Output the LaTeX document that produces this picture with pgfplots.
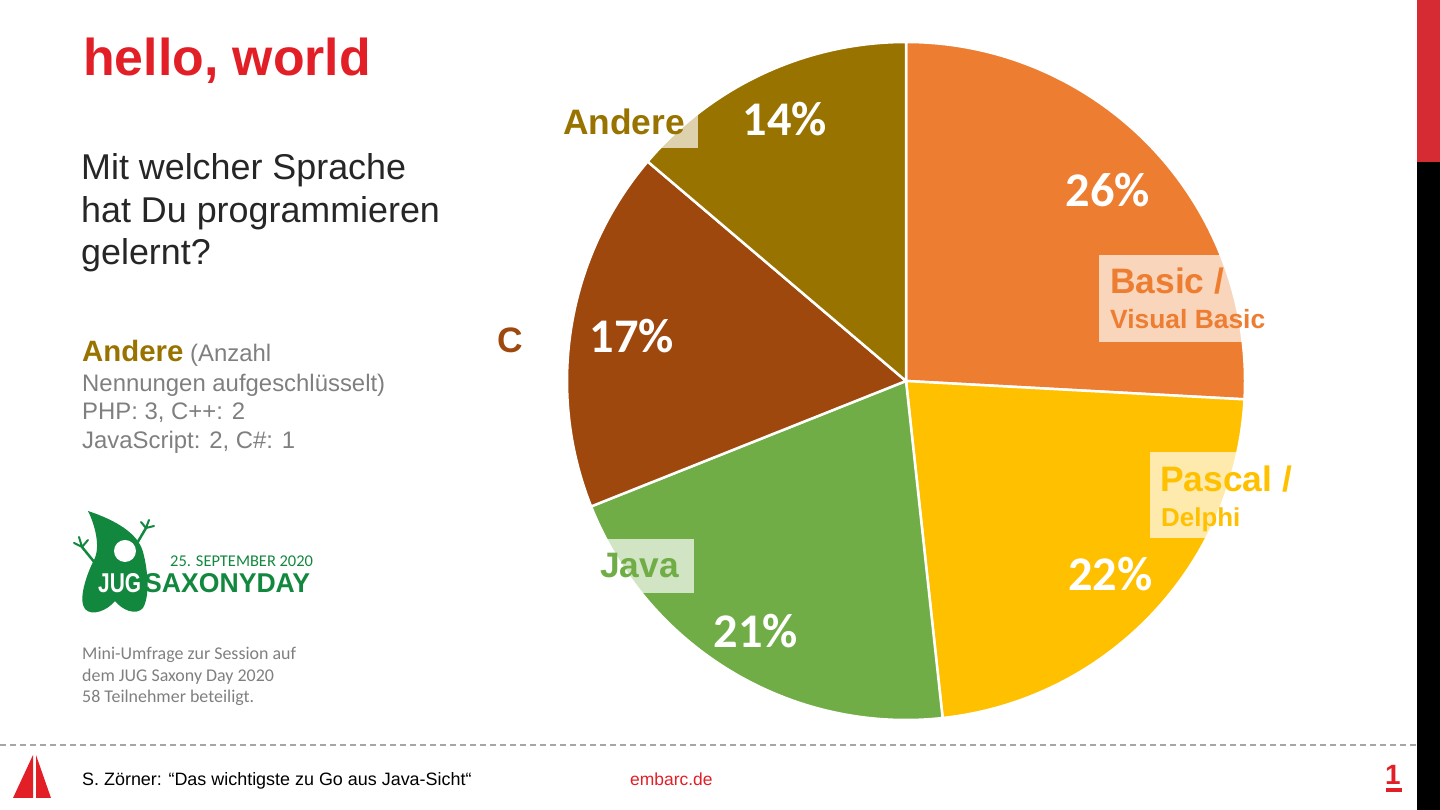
\documentclass[border=0pt]{standalone}
\usepackage{pgfplots}
\pgfplotsset{compat=1.18}
\usepackage{pgfplotstable}
\usepackage{graphicx}
\usepackage{fontspec}
\setmainfont{Liberation Sans}
\newfontfamily\carlito{Carlito}

\definecolor{cBasic}{HTML}{ED7D31}
\definecolor{cPascal}{HTML}{FFC000}
\definecolor{cJava}{HTML}{70AD47}
\definecolor{cC}{HTML}{9E480E}
\definecolor{cAndere}{HTML}{997300}
\definecolor{titlered}{RGB}{226,30,38}
\definecolor{barred}{RGB}{214,43,50}
\definecolor{txtdark}{HTML}{262626}
\definecolor{txtgray}{HTML}{7F7F7F}
\definecolor{jug}{RGB}{18,135,62}
\definecolor{dashgray}{HTML}{A6A6A6}

\newcommand\fs[1]{\fontsize{#1}{#1}\selectfont}

% survey answers (58 participants)
\pgfplotstableread{
lang count
Basic 15
Pascal 13
Java 12
C 10
Andere 8
}\piedata

\pgfplotstablegetelem{0}{count}\of\piedata\edef\cA{\pgfplotsretval}
\pgfplotstablegetelem{1}{count}\of\piedata\edef\cB{\pgfplotsretval}
\pgfplotstablegetelem{2}{count}\of\piedata\edef\cC{\pgfplotsretval}
\pgfplotstablegetelem{3}{count}\of\piedata\edef\cD{\pgfplotsretval}
\pgfplotstablegetelem{4}{count}\of\piedata\edef\cE{\pgfplotsretval}
\pgfmathsetmacro\total{\cA+\cB+\cC+\cD+\cE}
\pgfmathsetmacro\aA{90}
\pgfmathsetmacro\aB{\aA-360*\cA/\total}
\pgfmathsetmacro\aC{\aB-360*\cB/\total}
\pgfmathsetmacro\aD{\aC-360*\cC/\total}
\pgfmathsetmacro\aE{\aD-360*\cD/\total}
\pgfmathsetmacro\aF{\aE-360*\cE/\total}
\pgfmathsetmacro\mA{(\aA+\aB)/2}
\pgfmathsetmacro\mB{(\aB+\aC)/2}
\pgfmathsetmacro\mC{(\aC+\aD)/2}
\pgfmathsetmacro\mD{(\aD+\aE)/2}
\pgfmathsetmacro\mE{(\aE+\aF)/2}
\pgfmathtruncatemacro\pA{round(100*\cA/\total)}
\pgfmathtruncatemacro\pB{round(100*\cB/\total)}
\pgfmathtruncatemacro\pC{round(100*\cC/\total)}
\pgfmathtruncatemacro\pD{round(100*\cD/\total)}
\pgfmathtruncatemacro\pE{round(100*\cE/\total)}

\begin{document}
\begin{tikzpicture}
\path[use as bounding box] (0,0) rectangle (1440bp,810bp);
\begin{axis}[at={(906bp,429bp)}, anchor=center, scale only axis,
  width=678bp, height=678bp, xmin=-1, xmax=1, ymin=-1, ymax=1,
  hide axis, clip=false]
\fill[cBasic, draw=white, line width=2.5bp] (axis cs:0,0) -- (axis cs:{cos(\aA)},{sin(\aA)}) arc[start angle=\aA, end angle=\aB, radius=339bp] -- cycle;
\fill[cPascal, draw=white, line width=2.5bp] (axis cs:0,0) -- (axis cs:{cos(\aB)},{sin(\aB)}) arc[start angle=\aB, end angle=\aC, radius=339bp] -- cycle;
\fill[cJava, draw=white, line width=2.5bp] (axis cs:0,0) -- (axis cs:{cos(\aC)},{sin(\aC)}) arc[start angle=\aC, end angle=\aD, radius=339bp] -- cycle;
\fill[cC, draw=white, line width=2.5bp] (axis cs:0,0) -- (axis cs:{cos(\aD)},{sin(\aD)}) arc[start angle=\aD, end angle=\aE, radius=339bp] -- cycle;
\fill[cAndere, draw=white, line width=2.5bp] (axis cs:0,0) -- (axis cs:{cos(\aE)},{sin(\aE)}) arc[start angle=\aE, end angle=\aF, radius=339bp] -- cycle;
\node[white, font=\carlito\bfseries\fs{48.5}, inner sep=0pt] at (axis cs:{0.82*cos(\mA)},{0.82*sin(\mA)}) {\pA\%};
\node[white, font=\carlito\bfseries\fs{48.5}, inner sep=0pt] at (axis cs:{0.83*cos(\mB)},{0.83*sin(\mB)}) {\pB\%};
\node[white, font=\carlito\bfseries\fs{48.5}, inner sep=0pt] at (axis cs:{0.86*cos(\mC)},{0.86*sin(\mC)}) {\pC\%};
\node[white, font=\carlito\bfseries\fs{48.5}, inner sep=0pt] at (axis cs:{0.82*cos(\mD)},{0.82*sin(\mD)}) {\pD\%};
\node[white, font=\carlito\bfseries\fs{48.5}, inner sep=0pt] at (axis cs:{0.85*cos(\mE)},{0.85*sin(\mE)}) {\pE\%};
\end{axis}

\begin{scope}[yshift=810bp, x=1bp, y=-1bp]
% right edge bars
\fill[barred] (1417,0) rectangle (1440,162);
\fill[black] (1417,162) rectangle (1440,810);
% category label boxes
\fill[white, opacity=0.68] (555,100) rectangle (698,148);
\fill[white, opacity=0.68] (1099,255) rectangle (1275,342);
\fill[white, opacity=0.68] (1150,452) rectangle (1300,538);
\fill[white, opacity=0.68] (588,539) rectangle (694,593);
\node[anchor=base west, inner sep=0pt, text=cAndere, font=\bfseries\fs{35.5}] at (563,135) {Andere};
\node[anchor=base west, inner sep=0pt, text=cBasic, font=\bfseries\fs{35.5}] at (1110,294) {Basic /};
\node[anchor=base west, inner sep=0pt, text=cBasic, font=\bfseries\fs{26.5}] at (1110,329) {Visual Basic};
\node[anchor=base west, inner sep=0pt, text=cPascal, font=\bfseries\fs{35.5}] at (1160,492) {Pascal /};
\node[anchor=base west, inner sep=0pt, text=cPascal, font=\bfseries\fs{26}] at (1161,527) {Delphi};
\node[anchor=base west, inner sep=0pt, text=cJava, font=\bfseries\fs{35.5}] at (600,578) {Java};
\node[anchor=base west, inner sep=0pt, text=cC, font=\bfseries\fs{35.5}] at (497,353) {C};
% title
\node[anchor=base west, inner sep=0pt, text=titlered, font=\bfseries\fs{52}] at (83,76) {hello, world};
% question
\node[anchor=base west, inner sep=0pt, text=txtdark, font=\fs{36}] at (81,180) {Mit welcher Sprache};
\node[anchor=base west, inner sep=0pt, text=txtdark, font=\fs{36}] at (81,223) {hat Du programmieren};
\node[anchor=base west, inner sep=0pt, text=txtdark, font=\fs{36}] at (81,265) {gelernt?};
% breakdown
\node[anchor=base west, inner sep=0pt, text=txtgray, font=\fs{24}] at (82,362) {\textcolor{cAndere}{\bfseries\fs{29.5}Andere} (Anzahl};
\node[anchor=base west, inner sep=0pt, text=txtgray, font=\fs{24}] at (82,392) {Nennungen aufgeschlüsselt)};
\node[anchor=base west, inner sep=0pt, text=txtgray, font=\fs{24}] at (82,420) {PHP: 3, C++: 2};
\node[anchor=base west, inner sep=0pt, text=txtgray, font=\fs{24}] at (82,449) {JavaScript: 2, C\#: 1};
% logo
\fill[jug] (88,511) .. controls (115,520) and (138,533) .. (143,552)
  .. controls (148,570) and (150,596) .. (143,608)
  .. controls (136,616) and (122,610) .. (115,601)
  .. controls (108,610) and (92,617) .. (85,609)
  .. controls (78,600) and (86,575) .. (95,558)
  .. controls (100,545) and (95,525) .. (88,511) -- cycle;
\fill[white] (125,551) circle (11);
\draw[jug, line width=2.5bp, line cap=round] (95,563) -- (82,547);
\draw[jug, line width=2bp, line cap=round] (82,547) -- (74,543) (82,547) -- (79,537) (82,547) -- (88,540);
\draw[jug, line width=2.5bp, line cap=round] (136,545) -- (146,528);
\draw[jug, line width=2bp, line cap=round] (146,528) -- (141,522) (146,528) -- (149,520) (146,528) -- (154,526);
\node[anchor=base west, inner sep=0pt, text=white, font=\bfseries] at (98,593) {\resizebox{43bp}{19bp}{JUG}};
\node[anchor=base west, inner sep=0pt, text=jug, font=\bfseries] at (144,593) {\resizebox{166bp}{19bp}{SAXONYDAY}};
\node[anchor=base west, inner sep=0pt, text=jug, font=\carlito\fs{16.5}] at (170,567) {25. SEPTEMBER 2020};
\node[anchor=base west, inner sep=0pt, text=txtgray, font=\carlito\fs{18}] at (82,660) {Mini-Umfrage zur Session auf};
\node[anchor=base west, inner sep=0pt, text=txtgray, font=\carlito\fs{18}] at (82,682) {dem JUG Saxony Day 2020};
\node[anchor=base west, inner sep=0pt, text=txtgray, font=\carlito\fs{18}] at (82,703) {58 Teilnehmer beteiligt.};
% footer
\draw[dashgray, line width=2bp, dash pattern=on 6bp off 4bp] (0,745) -- (1417,745);
\fill[titlered] (13,798) -- (33,755) -- (33,798) -- cycle;
\fill[titlered] (36,755) -- (36,798) -- (51,798) -- cycle;
\node[anchor=base west, inner sep=0pt, text=black, font=\fs{18}] at (82,786) {S. Zörner: “Das wichtigste zu Go aus Java-Sicht“};
\node[anchor=base west, inner sep=0pt, text=titlered, font=\fs{17.5}] at (630,786) {embarc.de};
\node[anchor=base west, inner sep=0pt, text=titlered, font=\bfseries\fs{28}] at (1385,785) {1};
\fill[titlered] (1386,788) rectangle (1402,792);
\end{scope}
\end{tikzpicture}
\end{document}
